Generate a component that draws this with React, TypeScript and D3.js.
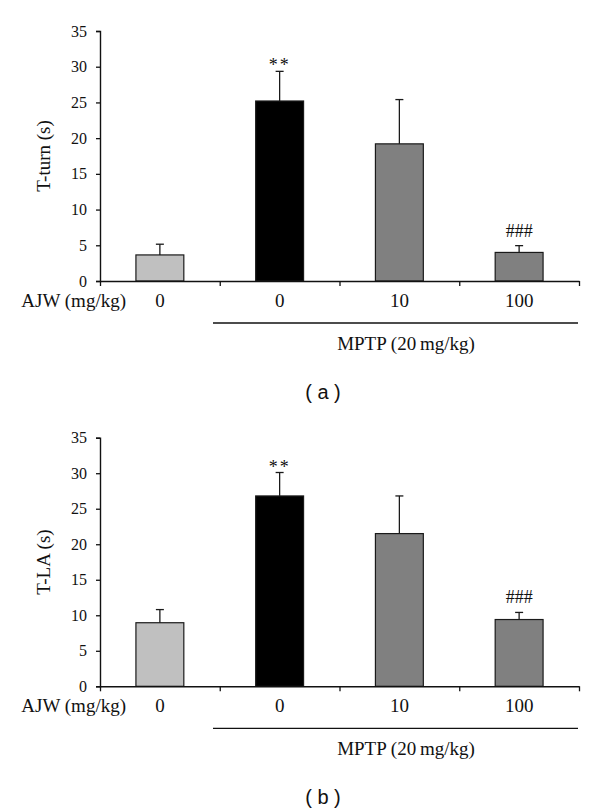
import React, { useRef, useEffect } from "react";
import * as d3 from "d3";

// AJW dose for each group (first is the saline control, the rest got MPTP)
const doses = ["0", "0", "10", "100"];
const barColors = ["#c0c0c0", "#000000", "#808080", "#808080"];
const marks = ["", "**", "", "###"];

// panel (a) T-turn
const tTurnMean = [3.65, 25.2, 19.2, 4.0];
const tTurnErr = [1.5, 4.15, 6.2, 0.95];

// panel (b) T-LA
const tLAMean = [8.95, 26.8, 21.5, 9.4];
const tLAErr = [1.85, 3.3, 5.3, 1.0];

const yTicks = [0, 5, 10, 15, 20, 25, 30, 35];

const serif = "'Liberation Serif', 'Times New Roman', serif";
const sans = "'Liberation Sans', Arial, sans-serif";

type PanelProps = {
  means: number[];
  errs: number[];
  yLabel: string;
  letter: string;
  top: number; // y of 35
  bottom: number; // y of 0
};

const Panel: React.FC<PanelProps> = ({ means, errs, yLabel, letter, top, bottom }) => {
  const gRef = useRef<SVGGElement>(null);

  useEffect(() => {
    const g = d3.select(gRef.current);
    g.selectAll("*").remove();

    const left = 100;
    const right = 579;

    const x = d3
      .scaleBand<number>()
      .domain(d3.range(doses.length))
      .range([left, right])
      .paddingInner(0.6)
      .paddingOuter(0.3);

    const y = d3.scaleLinear().domain([0, 35]).range([bottom, top]);

    // bars
    g.selectAll(".bar")
      .data(means)
      .enter()
      .append("rect")
      .attr("x", (_, i) => x(i)!)
      .attr("y", (d) => y(d))
      .attr("width", x.bandwidth())
      .attr("height", (d) => bottom - y(d))
      .attr("fill", (_, i) => barColors[i])
      .attr("stroke", "#1a1a1a")
      .attr("stroke-width", 1.2);

    // error bars (upper only)
    const eb = g
      .selectAll(".err")
      .data(means)
      .enter()
      .append("g")
      .attr("stroke", "#1a1a1a")
      .attr("stroke-width", 1.3);
    eb.append("line")
      .attr("x1", (_, i) => x(i)! + x.bandwidth() / 2)
      .attr("x2", (_, i) => x(i)! + x.bandwidth() / 2)
      .attr("y1", (d) => y(d))
      .attr("y2", (d, i) => y(d + errs[i]));
    eb.append("line")
      .attr("x1", (_, i) => x(i)! + x.bandwidth() / 2 - 4)
      .attr("x2", (_, i) => x(i)! + x.bandwidth() / 2 + 4)
      .attr("y1", (d, i) => y(d + errs[i]))
      .attr("y2", (d, i) => y(d + errs[i]));

    // significance marks
    g.selectAll(".mark")
      .data(marks)
      .enter()
      .append("text")
      .attr("x", (_, i) => x(i)! + x.bandwidth() / 2)
      .attr("y", (d, i) => y(means[i] + errs[i]) - (d.startsWith("*") ? 0 : 9))
      .attr("text-anchor", "middle")
      .attr("font-family", serif)
      .attr("font-size", d => (d.startsWith("*") ? 18 : 18))
      .attr("letter-spacing", d => (d.startsWith("*") ? 2 : 0))
      .attr("fill", "#111")
      .text((d) => d);

    // y axis
    const yAxis = g
      .append("g")
      .attr("transform", `translate(${left},0)`)
      .call(d3.axisLeft(y).tickValues(yTicks).tickSize(4).tickPadding(9));
    yAxis.select(".domain").attr("stroke", "#111").attr("stroke-width", 1.4);
    yAxis.selectAll(".tick line").attr("stroke", "#111").attr("stroke-width", 1.3);
    yAxis
      .selectAll(".tick text")
      .attr("font-family", serif)
      .attr("font-size", 16)
      .attr("fill", "#111");

    // x axis: ticks on group boundaries
    const xb = d3.scaleLinear().domain([0, doses.length]).range([left, right]);
    const xAxis = g
      .append("g")
      .attr("transform", `translate(0,${bottom})`)
      .call(
        d3
          .axisBottom(xb)
          .tickValues(d3.range(doses.length + 1))
          .tickSize(5)
          .tickSizeOuter(0)
          .tickFormat(() => "")
      );
    xAxis.select(".domain").attr("stroke", "#111").attr("stroke-width", 1.4);
    xAxis.selectAll(".tick line").attr("stroke", "#111").attr("stroke-width", 1.3);

    // dose labels
    g.selectAll(".dose")
      .data(doses)
      .enter()
      .append("text")
      .attr("x", (_, i) => x(i)! + x.bandwidth() / 2)
      .attr("y", bottom + 25.5)
      .attr("text-anchor", "middle")
      .attr("font-family", serif)
      .attr("font-size", 19)
      .attr("fill", "#111")
      .text((d) => d);

    g.append("text")
      .attr("x", 126)
      .attr("y", bottom + 25.5)
      .attr("text-anchor", "end")
      .attr("font-family", serif)
      .attr("font-size", 19)
      .attr("fill", "#111")
      .text("AJW (mg/kg)");

    // MPTP bracket line
    g.append("line")
      .attr("x1", 213)
      .attr("x2", right - 1)
      .attr("y1", bottom + 42)
      .attr("y2", bottom + 42)
      .attr("stroke", "#111")
      .attr("stroke-width", 1.3);

    g.append("text")
      .attr("x", 406)
      .attr("y", bottom + 68.5)
      .attr("text-anchor", "middle")
      .attr("font-family", serif)
      .attr("font-size", 19)
      .attr("fill", "#111")
      .text("MPTP (20\u2009mg/kg)");

    // y label
    g.append("text")
      .attr("transform", `translate(50,${(top + bottom) / 2}) rotate(-90)`)
      .attr("text-anchor", "middle")
      .attr("font-family", serif)
      .attr("font-size", 19)
      .attr("fill", "#111")
      .text(yLabel);

    // panel letter
    g.append("text")
      .attr("x", 323)
      .attr("y", bottom + 118)
      .attr("text-anchor", "middle")
      .attr("font-family", sans)
      .attr("font-size", 20)
      .attr("fill", "#111")
      .attr("xml:space", "preserve")
      .style("white-space", "pre")
      .text(`( ${letter} )`);
  }, [means, errs, yLabel, letter, top, bottom]);

  return <g ref={gRef} />;
};

export default function App() {
  return (
    <svg
      width={600}
      height={811}
      style={{ position: "absolute", left: 0, top: 0, background: "#fff" }}
    >
      <rect width={600} height={811} fill="#fff" />
      <Panel means={tTurnMean} errs={tTurnErr} yLabel="T-turn (s)" letter="a" top={31} bottom={281} />
      <Panel means={tLAMean} errs={tLAErr} yLabel="T-LA (s)" letter="b" top={437.7} bottom={686.3} />
    </svg>
  );
}
